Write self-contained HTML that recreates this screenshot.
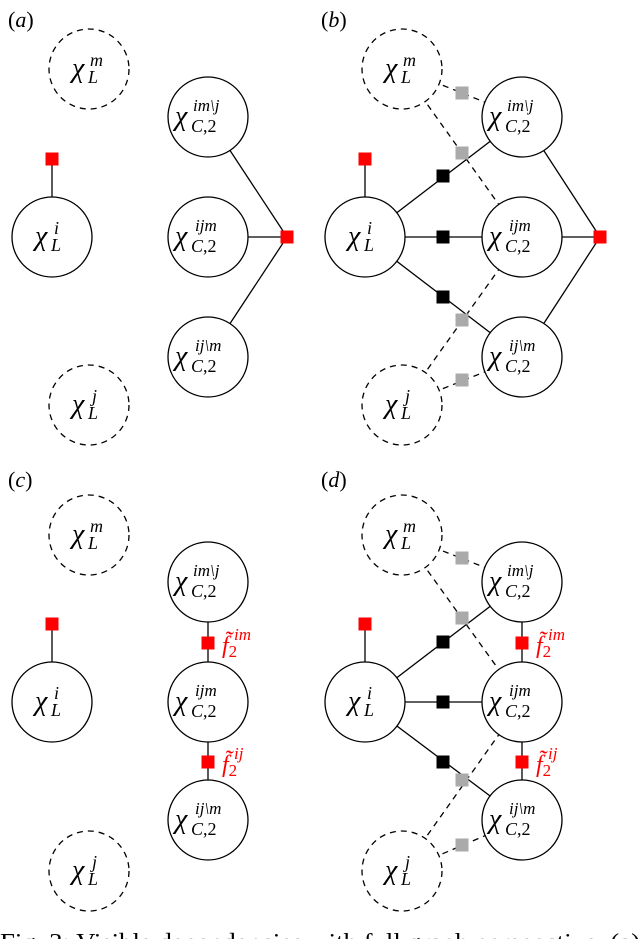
<!DOCTYPE html>
<html><head><meta charset="utf-8"><style>
html,body{margin:0;padding:0;background:#fff}
svg{display:block}
text{font-family:"Liberation Serif","DejaVu Serif",serif}
</style></head><body>
<svg width="640" height="939" viewBox="0 0 640 939" xmlns="http://www.w3.org/2000/svg">
<defs>
<g id="Lm"><circle r="40" fill="#fff" stroke="#000" stroke-width="1.3" stroke-dasharray="6,5"/><text x="-17" y="8" font-size="28" font-style="italic">χ</text><text x="-1" y="14" font-size="18" font-style="italic">L</text><text x="1" y="-3" font-size="18" font-style="italic">m</text></g>
<g id="Lj"><circle r="40" fill="#fff" stroke="#000" stroke-width="1.3" stroke-dasharray="6,5"/><text x="-17" y="8" font-size="28" font-style="italic">χ</text><text x="-1" y="14" font-size="18" font-style="italic">L</text><text x="3" y="-3" font-size="18" font-style="italic">j</text></g>
<g id="Li"><circle r="40" fill="#fff" stroke="#000" stroke-width="1.3"/><text x="-17" y="8" font-size="28" font-style="italic">χ</text><text x="-1" y="14" font-size="18" font-style="italic">L</text><text x="2" y="-3" font-size="18" font-style="italic">i</text></g>
<g id="C1"><circle r="40" fill="#fff" stroke="#000" stroke-width="1.3"/><text x="-33" y="8" font-size="28" font-style="italic">χ</text><text x="-17" y="15" font-size="18"><tspan font-style="italic">C</tspan>,2</text><text x="-15" y="-6" font-size="17" font-style="italic">im\j</text></g>
<g id="C2"><circle r="40" fill="#fff" stroke="#000" stroke-width="1.3"/><text x="-33" y="8" font-size="28" font-style="italic">χ</text><text x="-17" y="15" font-size="18"><tspan font-style="italic">C</tspan>,2</text><text x="-13" y="-6" font-size="17" font-style="italic">ijm</text></g>
<g id="C3"><circle r="40" fill="#fff" stroke="#000" stroke-width="1.3"/><text x="-33" y="8" font-size="28" font-style="italic">χ</text><text x="-17" y="15" font-size="18"><tspan font-style="italic">C</tspan>,2</text><text x="-13" y="-6" font-size="17" font-style="italic">ij\m</text></g>
</defs>

<!-- (a) -->
<text x="8" y="27" font-size="22">(<tspan font-style="italic">a</tspan>)</text>
<g stroke="#000" stroke-width="1.3">
<line x1="52" y1="159" x2="52" y2="237"/>
<line x1="208" y1="117" x2="287" y2="237"/>
<line x1="208" y1="237" x2="287" y2="237"/>
<line x1="208" y1="357" x2="287" y2="237"/>
</g>
<use href="#Lm" x="89" y="69"/><use href="#Li" x="52" y="237"/><use href="#Lj" x="89" y="405"/>
<use href="#C1" x="208" y="117"/><use href="#C2" x="208" y="237"/><use href="#C3" x="208" y="357"/>
<rect x="45.5" y="152.5" width="13" height="13" fill="#f00"/>
<rect x="280.5" y="230.5" width="13" height="13" fill="#f00"/>

<!-- (b) -->
<text x="321" y="27" font-size="22">(<tspan font-style="italic">b</tspan>)</text>
<g stroke="#000" stroke-width="1.3">
<line x1="365" y1="159" x2="365" y2="237"/>
<line x1="365" y1="237" x2="522" y2="117"/>
<line x1="365" y1="237" x2="522" y2="237"/>
<line x1="365" y1="237" x2="522" y2="357"/>
<line x1="522" y1="117" x2="600" y2="237"/>
<line x1="522" y1="237" x2="600" y2="237"/>
<line x1="522" y1="357" x2="600" y2="237"/>
</g>
<g stroke="#000" stroke-width="1.3" stroke-dasharray="6,5">
<line x1="402" y1="69" x2="522" y2="117"/>
<line x1="402" y1="69" x2="522" y2="237"/>
<line x1="402" y1="405" x2="522" y2="237"/>
<line x1="402" y1="405" x2="522" y2="357"/>
</g>
<use href="#Lm" x="402" y="69"/><use href="#Li" x="365" y="237"/><use href="#Lj" x="402" y="405"/>
<use href="#C1" x="522" y="117"/><use href="#C2" x="522" y="237"/><use href="#C3" x="522" y="357"/>
<rect x="358.5" y="152.5" width="13" height="13" fill="#f00"/>
<rect x="593.5" y="230.5" width="13" height="13" fill="#f00"/>
<g fill="#000"><rect x="436.5" y="169.5" width="13" height="13"/><rect x="436.5" y="230.5" width="13" height="13"/><rect x="436.5" y="290.5" width="13" height="13"/></g>
<g fill="#aaa"><rect x="455.5" y="86.5" width="13" height="13"/><rect x="455.5" y="146.5" width="13" height="13"/><rect x="455.5" y="313.5" width="13" height="13"/><rect x="455.5" y="373.5" width="13" height="13"/></g>

<!-- (c) -->
<text x="8" y="487" font-size="22">(<tspan font-style="italic">c</tspan>)</text>
<g stroke="#000" stroke-width="1.3">
<line x1="52" y1="624" x2="52" y2="702"/>
<line x1="208" y1="582" x2="208" y2="820"/>
</g>
<use href="#Lm" x="89" y="535"/><use href="#Li" x="52" y="702"/><use href="#Lj" x="89" y="871"/>
<use href="#C1" x="208" y="582"/><use href="#C2" x="208" y="702"/><use href="#C3" x="208" y="820"/>
<rect x="45.5" y="617.5" width="13" height="13" fill="#f00"/>
<rect x="201.5" y="636.5" width="13" height="13" fill="#f00"/>
<rect x="201.5" y="755.5" width="13" height="13" fill="#f00"/>
<text x="222" y="653" font-size="24" font-style="italic" fill="#f00">f̃<tspan font-size="17" dy="4" font-style="normal">2</tspan></text>
<text x="234" y="640" font-size="17" font-style="italic" fill="#f00">im</text>
<text x="222" y="772" font-size="24" font-style="italic" fill="#f00">f̃<tspan font-size="17" dy="4" font-style="normal">2</tspan></text>
<text x="234" y="759" font-size="17" font-style="italic" fill="#f00">ij</text>

<!-- (d) -->
<text x="321" y="487" font-size="22">(<tspan font-style="italic">d</tspan>)</text>
<g stroke="#000" stroke-width="1.3">
<line x1="365" y1="624" x2="365" y2="702"/>
<line x1="365" y1="702" x2="522" y2="582"/>
<line x1="365" y1="702" x2="522" y2="702"/>
<line x1="365" y1="702" x2="522" y2="820"/>
<line x1="522" y1="582" x2="522" y2="820"/>
</g>
<g stroke="#000" stroke-width="1.3" stroke-dasharray="6,5">
<line x1="402" y1="535" x2="522" y2="582"/>
<line x1="402" y1="535" x2="522" y2="702"/>
<line x1="402" y1="871" x2="522" y2="702"/>
<line x1="402" y1="871" x2="522" y2="820"/>
</g>
<use href="#Lm" x="402" y="535"/><use href="#Li" x="365" y="702"/><use href="#Lj" x="402" y="871"/>
<use href="#C1" x="522" y="582"/><use href="#C2" x="522" y="702"/><use href="#C3" x="522" y="820"/>
<rect x="358.5" y="617.5" width="13" height="13" fill="#f00"/>
<rect x="515.5" y="636.5" width="13" height="13" fill="#f00"/>
<rect x="515.5" y="755.5" width="13" height="13" fill="#f00"/>
<text x="536" y="653" font-size="24" font-style="italic" fill="#f00">f̃<tspan font-size="17" dy="4" font-style="normal">2</tspan></text>
<text x="548" y="640" font-size="17" font-style="italic" fill="#f00">im</text>
<text x="536" y="772" font-size="24" font-style="italic" fill="#f00">f̃<tspan font-size="17" dy="4" font-style="normal">2</tspan></text>
<text x="548" y="759" font-size="17" font-style="italic" fill="#f00">ij</text>
<g fill="#000"><rect x="436.5" y="635.5" width="13" height="13"/><rect x="436.5" y="695.5" width="13" height="13"/><rect x="436.5" y="755.5" width="13" height="13"/></g>
<g fill="#aaa"><rect x="455.5" y="551.5" width="13" height="13"/><rect x="455.5" y="611.5" width="13" height="13"/><rect x="455.5" y="773.5" width="13" height="13"/><rect x="455.5" y="838.5" width="13" height="13"/></g>

<text x="0" y="950" font-size="24" textLength="640" lengthAdjust="spacingAndGlyphs">Fig. 3: Visible dependencies with full graph perspective. (a)</text>
</svg>
</body></html>
